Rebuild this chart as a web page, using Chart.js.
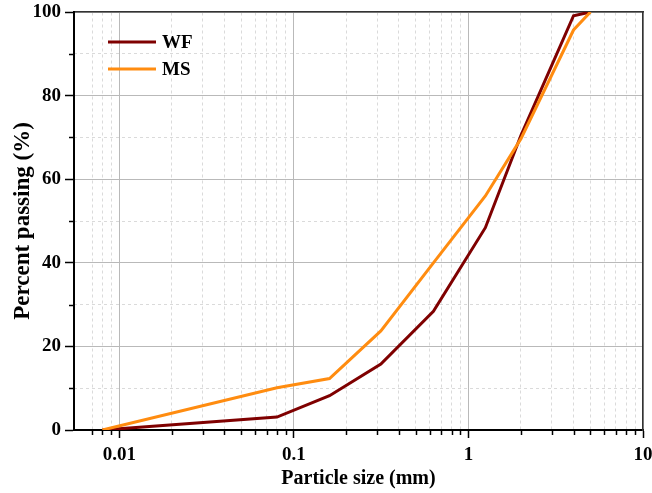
<!DOCTYPE html>
<html>
<head>
<meta charset="utf-8">
<script src="https://cdn.jsdelivr.net/npm/chart.js@4/dist/chart.umd.min.js"></script>
<style>
  html, body { margin: 0; padding: 0; background: #ffffff; }
  #wrap { width: 652px; height: 493px; }
</style>
</head>
<body>
<div id="wrap"><canvas id="c" width="652" height="493"></canvas></div>
<script>
// ---- data ----
const seriesNames = ["WF", "MS"];
const particleSizes = [0.008, 0.08, 0.16, 0.315, 0.63, 1.25, 2, 4, 5];       // mm
const wfPassing = [0, 3.1, 8.2, 15.8, 28.4, 48.4, 70.5, 99.1, 100];          // %
const msPassing = [0, 10.1, 12.3, 23.7, 40.0, 56.0, 69.7, 95.7, 100];        // %
const xMin = 0.0055, xMax = 10;
const yMin = 0, yMax = 100;
const yStep = 10, yLabelStep = 20;

const colors = ["#7f0000", "#ff8c10"];
const FONT = "'Liberation Serif', 'Times New Roman', serif";
const MAJOR_GRID = "#b9b9b9";
const MINOR_GRID = "#dadada";
const NONE = "rgba(0,0,0,0)";

function isDecade(v) {
  const l = Math.log10(v);
  return Math.abs(l - Math.round(l)) < 1e-9;
}
function toPoints(xs, ys) { return xs.map((x, i) => ({ x: x, y: ys[i] })); }
function keepRegularLogTicks(scale) {
  scale.ticks = scale.ticks.filter(t => {
    const e = Math.floor(Math.log10(t.value) + 1e-9);
    const m = t.value / Math.pow(10, e);
    return Math.abs(m - Math.round(m)) < 1e-6;
  });
}
function noOverhang(s) {
  s.paddingLeft = 0; s.paddingRight = 0; s.paddingTop = 0; s.paddingBottom = 0;
}

// minor tick marks (shorter) drawn via the library's scales
const minorTicks = {
  id: "minorTicks",
  afterDraw(chart) {
    const ctx = chart.ctx;
    const xs = chart.scales.x, ys = chart.scales.y;
    ctx.save();
    ctx.strokeStyle = "#000";
    ctx.lineWidth = 1.5;
    xs.ticks.forEach(t => {
      if (isDecade(t.value)) return;
      const px = Math.round(xs.getPixelForValue(t.value)) + 0.5;
      ctx.beginPath();
      ctx.moveTo(px, xs.top);
      ctx.lineTo(px, xs.top + 5);
      ctx.stroke();
    });
    ys.ticks.forEach(t => {
      if (t.value % yLabelStep === 0) return;
      const py = Math.round(ys.getPixelForValue(t.value)) + 0.5;
      ctx.beginPath();
      ctx.moveTo(ys.right - 5, py);
      ctx.lineTo(ys.right, py);
      ctx.stroke();
    });
    ctx.restore();
  }
};

// legend inside the plot area, stacked vertically
const innerLegend = {
  id: "innerLegend",
  afterDatasetsDraw(chart) {
    const ctx = chart.ctx;
    const a = chart.chartArea;
    ctx.save();
    chart.data.datasets.forEach((ds, i) => {
      const y = a.top + 30 + i * 27;
      const x0 = a.left + 34;
      ctx.strokeStyle = ds.borderColor;
      ctx.lineWidth = 3;
      ctx.beginPath();
      ctx.moveTo(x0, y);
      ctx.lineTo(x0 + 48, y);
      ctx.stroke();
      ctx.fillStyle = "#000";
      ctx.font = "bold 19px " + FONT;
      ctx.textBaseline = "middle";
      ctx.textAlign = "left";
      ctx.fillText(ds.label, x0 + 54, y + 1);
    });
    ctx.restore();
  }
};

new Chart(document.getElementById("c"), {
  type: "line",
  data: {
    datasets: [
      { label: seriesNames[0], data: toPoints(particleSizes, wfPassing), borderColor: colors[0], backgroundColor: colors[0], borderWidth: 3, pointRadius: 0, tension: 0, order: 1 },
      { label: seriesNames[1], data: toPoints(particleSizes, msPassing), borderColor: colors[1], backgroundColor: colors[1], borderWidth: 3, pointRadius: 0, tension: 0, order: 0 }
    ]
  },
  options: {
    responsive: false,
    animation: false,
    devicePixelRatio: 1,
    layout: { padding: { left: 0, right: 9, top: 12, bottom: 0 } },
    plugins: { legend: { display: false }, tooltip: { enabled: false }, title: { display: false } },
    scales: {
      x: {
        type: "logarithmic",
        position: "bottom",
        min: xMin, max: xMax,
        afterBuildTicks: keepRegularLogTicks,
        afterFit: s => { s.height = 63; noOverhang(s); },
        grid: {
          color: c => (c.tick && isDecade(c.tick.value)) ? MAJOR_GRID : NONE,
          lineWidth: 1,
          drawTicks: true,
          tickLength: 8,
          tickWidth: 1.5,
          tickColor: c => (c.tick && isDecade(c.tick.value)) ? "#000" : NONE
        },
        border: { display: true, color: "#000", width: 2 },
        ticks: {
          autoSkip: false,
          maxRotation: 0,
          padding: 6,
          color: "#000",
          font: { family: FONT, size: 19, weight: "bold" },
          callback: v => isDecade(v) ? String(Number(v.toPrecision(1))) : ""
        },
        title: {
          display: true, text: "Particle size (mm)", color: "#000",
          font: { family: FONT, size: 20, weight: "bold" },
          padding: { top: 0, bottom: 2 }
        }
      },
      x2: {
        type: "logarithmic",
        position: "top",
        min: xMin, max: xMax,
        afterBuildTicks: keepRegularLogTicks,
        afterFit: s => { s.height = 0; noOverhang(s); },
        grid: {
          color: c => (c.tick && !isDecade(c.tick.value)) ? MINOR_GRID : NONE,
          lineWidth: 1,
          drawTicks: false
        },
        border: { display: true, color: "#333", width: 1.5, dash: [3, 3] },
        ticks: { display: false, autoSkip: false }
      },
      y: {
        type: "linear",
        position: "left",
        min: yMin, max: yMax,
        afterFit: s => { s.width = 74; noOverhang(s); },
        grid: {
          color: c => (c.tick && c.tick.value % yLabelStep === 0) ? MAJOR_GRID : NONE,
          lineWidth: 1,
          drawTicks: true,
          tickLength: 9,
          tickWidth: 1.5,
          tickColor: c => (c.tick && c.tick.value % yLabelStep === 0) ? "#000" : NONE
        },
        border: { display: true, color: "#000", width: 2 },
        ticks: {
          stepSize: yStep,
          autoSkip: false,
          padding: 4,
          color: "#000",
          font: { family: FONT, size: 19, weight: "bold" },
          callback: v => (v % yLabelStep === 0) ? String(v) : ""
        },
        title: {
          display: true, text: "Percent passing (%)", color: "#000",
          font: { family: FONT, size: 23, weight: "bold" },
          padding: { top: 9, bottom: 0 }
        }
      },
      y2: {
        type: "linear",
        position: "right",
        min: yMin, max: yMax,
        afterFit: s => { s.width = 0; noOverhang(s); },
        grid: {
          color: c => (c.tick && c.tick.value % yLabelStep !== 0) ? MINOR_GRID : NONE,
          lineWidth: 1,
          drawTicks: false
        },
        border: { display: true, color: "#333", width: 1.5, dash: [3, 3] },
        ticks: { display: false, stepSize: yStep }
      }
    }
  },
  plugins: [minorTicks, innerLegend]
});
</script>
</body>
</html>
